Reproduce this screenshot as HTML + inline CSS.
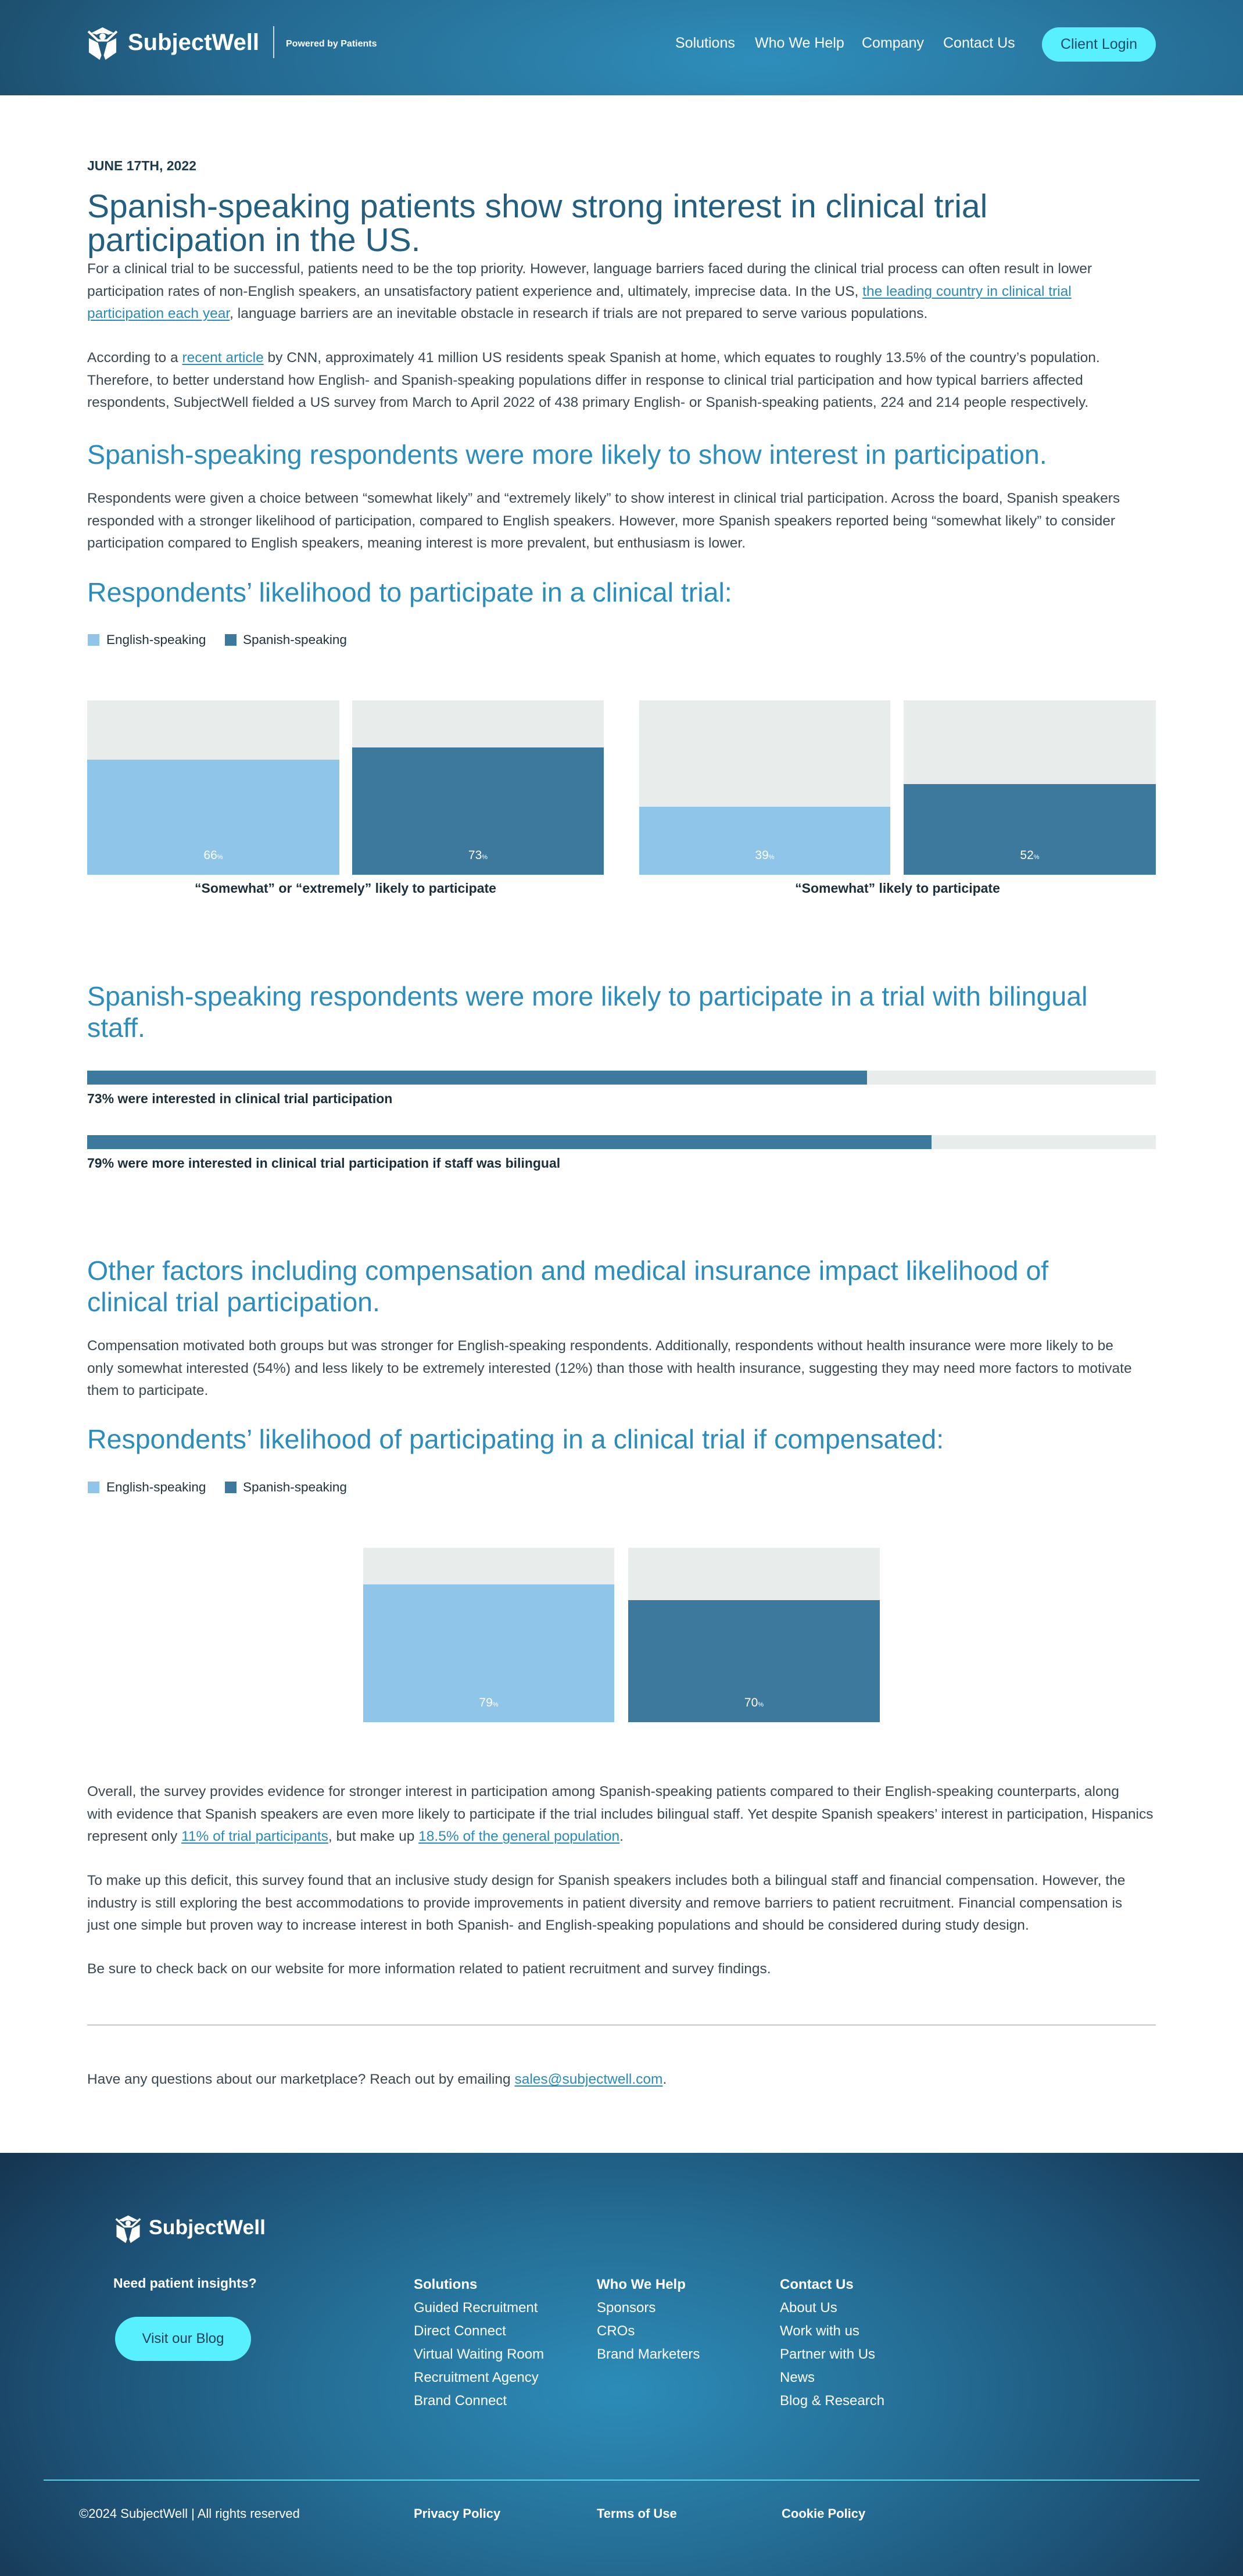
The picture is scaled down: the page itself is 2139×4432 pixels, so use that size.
<!DOCTYPE html>
<html>
<head>
<meta charset="utf-8">
<style>
*{margin:0;padding:0;box-sizing:border-box;}
html,body{width:2139px;height:4432px;background:#fff;overflow:hidden;}
body{font-family:"Liberation Sans",Arial,sans-serif;position:relative;}
.a{position:absolute;white-space:nowrap;}
.hdr{left:0;top:0;width:2139px;height:164px;background:radial-gradient(ellipse 1500px 420px at 1310px 105px,#2e8ebb 0%,#2a7ba4 32%,#246890 62%,#1b4662 100%);}
.nav{font-size:25px;line-height:25px;color:#fff;top:62px;}
.btn{left:1793px;top:47px;width:196px;height:59px;border-radius:30px;background:#58f0ff;color:#1f4a66;font-size:25px;line-height:59px;text-align:center;}
.date{left:150px;top:274px;font-size:23px;line-height:23px;font-weight:bold;color:#1b3a4e;}
.title{left:150px;top:326px;font-size:57px;line-height:58px;color:#225f80;}
.p{left:150px;font-size:24.5px;line-height:38.5px;color:#3a4852;}
.p a{color:#2a8ab8;text-decoration:underline;text-decoration-thickness:2px;text-underline-offset:3px;}
.h2{left:150px;font-size:46.5px;line-height:54px;color:#2b8dbd;}
.leg{font-size:22.5px;line-height:20px;color:#22323c;}
.sq{width:20px;height:20px;}
.lb{background:#8ec5e8;}
.db{background:#3d789d;}
.bar{background:#e8eceb;overflow:hidden;}
.bar .f{position:absolute;left:0;bottom:0;width:100%;}
.bar .v{position:absolute;left:0;width:100%;bottom:19px;text-align:center;color:#fff;font-size:21px;line-height:21px;}
.bar .v small{font-size:11px;}
.clab{font-size:23px;line-height:23px;font-weight:bold;color:#1c2e3a;text-align:center;}
.hbar{left:150px;width:1839px;height:24px;background:#e8eceb;}
.hbar div{height:24px;background:#3d789d;}
.hlab{left:150px;font-size:23px;line-height:23px;font-weight:bold;color:#1c2e3a;}
.ftr{left:0;top:3704px;width:2139px;height:728px;background:radial-gradient(ellipse 1350px 720px at 1064px 408px,#2c8cb8 0%,#256f97 38%,#1d5175 70%,#15314c 100%);}
.fh{font-size:24px;line-height:24px;font-weight:bold;color:#fff;}
.fi{font-size:24px;line-height:24px;color:#fff;}
.fb{font-size:22px;line-height:22px;color:#fff;}
</style>
</head>
<body>

<!-- HEADER -->
<div class="a hdr"></div>
<svg class="a" style="left:150px;top:46px;" width="53" height="57" viewBox="0 0 54 58">
 <path fill="#fff" d="M27 1 L47 11 L37 14 Q27 8 17 14 L7 11 Z"/>
 <circle cx="27" cy="17" r="5.5" fill="#fff"/>
 <path d="M2 8 L19 24 L35 24 L52 8" stroke="#fff" stroke-width="4" fill="none" stroke-linejoin="round"/>
 <path fill="#fff" d="M3 20 L19 28 L25 50 L22 58 L3 45 Z"/>
 <path fill="#fff" d="M51 20 L35 28 L29 50 L32 58 L51 45 Z"/>
</svg>
<div class="a" style="left:220px;top:53px;font-size:40px;line-height:40px;font-weight:bold;color:#fff;">SubjectWell</div>
<div class="a" style="left:470px;top:45px;width:2px;height:55px;background:rgba(255,255,255,0.75);"></div>
<div class="a" style="left:492px;top:68px;font-size:16px;line-height:16px;font-weight:bold;color:#fff;">Powered by Patients</div>
<div class="a nav" style="left:1162px;">Solutions</div>
<div class="a nav" style="left:1299px;">Who We Help</div>
<div class="a nav" style="left:1483px;">Company</div>
<div class="a nav" style="left:1623px;">Contact Us</div>
<div class="a btn">Client Login</div>

<!-- ARTICLE -->
<div class="a date">JUNE 17TH, 2022</div>
<div class="a title">Spanish-speaking patients show strong interest in clinical trial<br>participation in the US.</div>

<div class="a p" style="top:444px;">For a clinical trial to be successful, patients need to be the top priority. However, language barriers faced during the clinical trial process can often result in lower<br>participation rates of non-English speakers, an unsatisfactory patient experience and, ultimately, imprecise data. In the US, <a>the leading country in clinical trial</a><br><a>participation each year</a>, language barriers are an inevitable obstacle in research if trials are not prepared to serve various populations.</div>

<div class="a p" style="top:597px;">According to a <a>recent article</a> by CNN, approximately 41 million US residents speak Spanish at home, which equates to roughly 13.5% of the country’s population.<br>Therefore, to better understand how English- and Spanish-speaking populations differ in response to clinical trial participation and how typical barriers affected<br>respondents, SubjectWell fielded a US survey from March to April 2022 of 438 primary English- or Spanish-speaking patients, 224 and 214 people respectively.</div>

<div class="a h2" style="top:755px;">Spanish-speaking respondents were more likely to show interest in participation.</div>

<div class="a p" style="top:839px;">Respondents were given a choice between “somewhat likely” and “extremely likely” to show interest in clinical trial participation. Across the board, Spanish speakers<br>responded with a stronger likelihood of participation, compared to English speakers. However, more Spanish speakers reported being “somewhat likely” to consider<br>participation compared to English speakers, meaning interest is more prevalent, but enthusiasm is lower.</div>

<div class="a h2" style="top:992px;">Respondents’ likelihood to participate in a clinical trial:</div>

<!-- legend 1 -->
<div class="a sq lb" style="left:151px;top:1091px;"></div>
<div class="a leg" style="left:183px;top:1091px;">English-speaking</div>
<div class="a sq db" style="left:387px;top:1091px;"></div>
<div class="a leg" style="left:418px;top:1091px;">Spanish-speaking</div>

<!-- chart 1 -->
<div class="a bar" style="left:150px;top:1205px;width:434px;height:300px;"><div class="f lb" style="height:198px;"></div><div class="v">66<small>%</small></div></div>
<div class="a bar" style="left:606px;top:1205px;width:433px;height:300px;"><div class="f db" style="height:219px;"></div><div class="v">73<small>%</small></div></div>
<div class="a bar" style="left:1100px;top:1205px;width:432px;height:300px;"><div class="f lb" style="height:117px;"></div><div class="v">39<small>%</small></div></div>
<div class="a bar" style="left:1555px;top:1205px;width:434px;height:300px;"><div class="f db" style="height:156px;"></div><div class="v">52<small>%</small></div></div>
<div class="a clab" style="left:150px;top:1517px;width:889px;">“Somewhat” or “extremely” likely to participate</div>
<div class="a clab" style="left:1100px;top:1517px;width:889px;">“Somewhat” likely to participate</div>

<div class="a h2" style="top:1687px;">Spanish-speaking respondents were more likely to participate in a trial with bilingual<br>staff.</div>

<div class="a hbar" style="top:1842px;"><div style="width:1342px;"></div></div>
<div class="a hlab" style="top:1879px;">73% were interested in clinical trial participation</div>
<div class="a hbar" style="top:1953px;"><div style="width:1453px;"></div></div>
<div class="a hlab" style="top:1990px;">79% were more interested in clinical trial participation if staff was bilingual</div>

<div class="a h2" style="top:2159px;">Other factors including compensation and medical insurance impact likelihood of<br>clinical trial participation.</div>

<div class="a p" style="top:2297px;">Compensation motivated both groups but was stronger for English-speaking respondents. Additionally, respondents without health insurance were more likely to be<br>only somewhat interested (54%) and less likely to be extremely interested (12%) than those with health insurance, suggesting they may need more factors to motivate<br>them to participate.</div>

<div class="a h2" style="top:2449px;">Respondents’ likelihood of participating in a clinical trial if compensated:</div>

<!-- legend 2 -->
<div class="a sq lb" style="left:151px;top:2549px;"></div>
<div class="a leg" style="left:183px;top:2549px;">English-speaking</div>
<div class="a sq db" style="left:387px;top:2549px;"></div>
<div class="a leg" style="left:418px;top:2549px;">Spanish-speaking</div>

<!-- chart 2 -->
<div class="a bar" style="left:625px;top:2663px;width:432px;height:300px;"><div class="f lb" style="height:237px;"></div><div class="v">79<small>%</small></div></div>
<div class="a bar" style="left:1081px;top:2663px;width:433px;height:300px;"><div class="f db" style="height:210px;"></div><div class="v">70<small>%</small></div></div>

<div class="a p" style="top:3064px;">Overall, the survey provides evidence for stronger interest in participation among Spanish-speaking patients compared to their English-speaking counterparts, along<br>with evidence that Spanish speakers are even more likely to participate if the trial includes bilingual staff. Yet despite Spanish speakers’ interest in participation, Hispanics<br>represent only <a>11% of trial participants</a>, but make up <a>18.5% of the general population</a>.</div>

<div class="a p" style="top:3217px;">To make up this deficit, this survey found that an inclusive study design for Spanish speakers includes both a bilingual staff and financial compensation. However, the<br>industry is still exploring the best accommodations to provide improvements in patient diversity and remove barriers to patient recruitment. Financial compensation is<br>just one simple but proven way to increase interest in both Spanish- and English-speaking populations and should be considered during study design.</div>

<div class="a p" style="top:3369px;">Be sure to check back on our website for more information related to patient recruitment and survey findings.</div>

<div class="a" style="left:150px;top:3483px;width:1839px;height:2px;background:#c6c6c6;"></div>

<div class="a p" style="top:3559px;">Have any questions about our marketplace? Reach out by emailing <a>sales@subjectwell.com</a>.</div>

<!-- FOOTER -->
<div class="a ftr"></div>
<svg class="a" style="left:198px;top:3810px;" width="45" height="50" viewBox="0 0 54 58">
 <path fill="#fff" d="M27 1 L47 11 L37 14 Q27 8 17 14 L7 11 Z"/>
 <circle cx="27" cy="17" r="5.5" fill="#fff"/>
 <path d="M2 8 L19 24 L35 24 L52 8" stroke="#fff" stroke-width="4" fill="none" stroke-linejoin="round"/>
 <path fill="#fff" d="M3 20 L19 28 L25 50 L22 58 L3 45 Z"/>
 <path fill="#fff" d="M51 20 L35 28 L29 50 L32 58 L51 45 Z"/>
</svg>
<div class="a" style="left:256px;top:3815px;font-size:35.6px;line-height:35.6px;font-weight:bold;color:#fff;">SubjectWell</div>

<div class="a" style="left:195px;top:3917px;font-size:23px;line-height:23px;font-weight:bold;color:#fff;">Need patient insights?</div>
<div class="a" style="left:198px;top:3986px;width:234px;height:76px;border-radius:38px;background:#58f0ff;color:#1f3f55;font-size:24px;line-height:76px;text-align:center;">Visit our Blog</div>

<div class="a fh" style="left:712px;top:3919px;">Solutions</div>
<div class="a fi" style="left:712px;top:3959px;">Guided Recruitment</div>
<div class="a fi" style="left:712px;top:3999px;">Direct Connect</div>
<div class="a fi" style="left:712px;top:4039px;">Virtual Waiting Room</div>
<div class="a fi" style="left:712px;top:4079px;">Recruitment Agency</div>
<div class="a fi" style="left:712px;top:4119px;">Brand Connect</div>

<div class="a fh" style="left:1027px;top:3919px;">Who We Help</div>
<div class="a fi" style="left:1027px;top:3959px;">Sponsors</div>
<div class="a fi" style="left:1027px;top:3999px;">CROs</div>
<div class="a fi" style="left:1027px;top:4039px;">Brand Marketers</div>

<div class="a fh" style="left:1342px;top:3919px;">Contact Us</div>
<div class="a fi" style="left:1342px;top:3959px;">About Us</div>
<div class="a fi" style="left:1342px;top:3999px;">Work with us</div>
<div class="a fi" style="left:1342px;top:4039px;">Partner with Us</div>
<div class="a fi" style="left:1342px;top:4079px;">News</div>
<div class="a fi" style="left:1342px;top:4119px;">Blog &amp; Research</div>

<div class="a" style="left:75px;top:4266px;width:1989px;height:2px;background:#55d5ea;"></div>

<div class="a fb" style="left:136px;top:4314px;">©2024 SubjectWell | All rights reserved</div>
<div class="a fb" style="left:712px;top:4314px;font-weight:bold;">Privacy Policy</div>
<div class="a fb" style="left:1027px;top:4314px;font-weight:bold;">Terms of Use</div>
<div class="a fb" style="left:1345px;top:4314px;font-weight:bold;">Cookie Policy</div>

</body>
</html>
